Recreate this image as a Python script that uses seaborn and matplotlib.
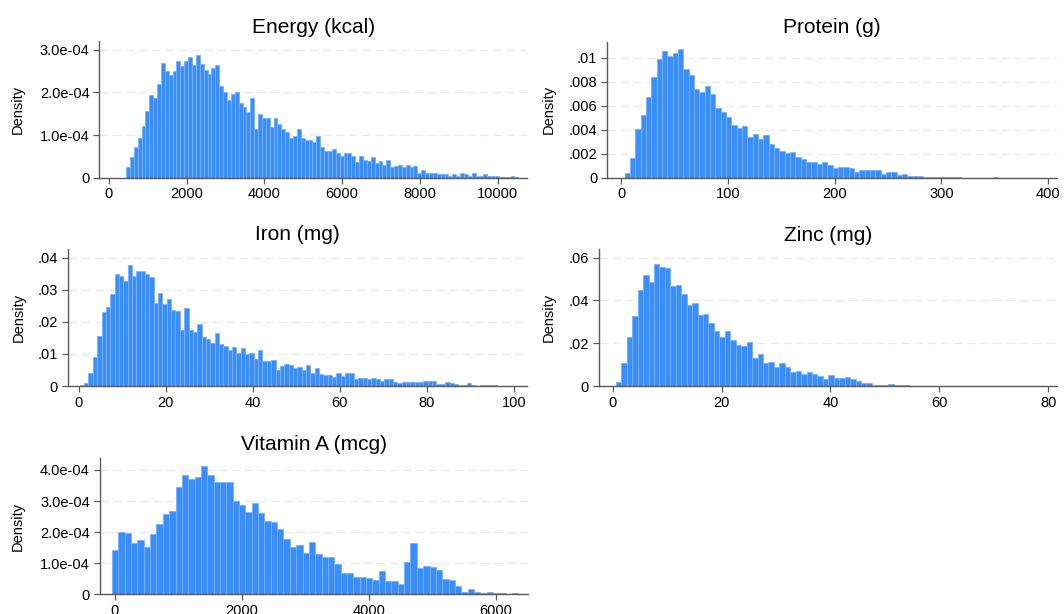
import numpy as np
import pandas as pd
import matplotlib
matplotlib.use("Agg")
import matplotlib.pyplot as plt
import seaborn as sns

# ---- histogram data (bin start, bin width, density per bin) ----
energy_start, energy_width = 437, 100
energy_density = [
    0.25, 0.48, 0.72, 0.94, 1.21, 1.57, 1.93, 1.86, 2.19, 2.70,
    2.51, 2.40, 2.51, 2.74, 2.61, 2.74, 2.84, 2.65, 2.88, 2.67,
    2.53, 2.42, 2.56, 2.65, 2.16, 2.00, 1.82, 1.97, 2.02, 1.76,
    1.66, 1.54, 1.88, 1.13, 1.49, 1.41, 1.40, 1.18, 1.39, 1.27,
    1.15, 1.06, 0.92, 0.97, 1.15, 0.94, 0.88, 0.88, 0.83, 0.97,
    0.71, 0.62, 0.62, 0.67, 0.58, 0.50, 0.57, 0.59, 0.51, 0.36,
    0.51, 0.41, 0.38, 0.48, 0.34, 0.38, 0.29, 0.41, 0.24, 0.27,
    0.29, 0.25, 0.29, 0.24, 0.27, 0.12, 0.19, 0.12, 0.12, 0.10,
    0.08, 0.08, 0.08, 0.05, 0.08, 0.05, 0.10, 0.08, 0.05, 0.10,
    0.03, 0.05, 0.08, 0.03, 0.05, 0.03, 0.02, 0.02, 0.02, 0.04,
    0.01,
]  # x 1e-4

protein_start, protein_width = 3, 5
protein_density = [
    0.39, 1.64, 4.03, 5.22, 6.75, 8.39, 9.86, 10.53, 10.14, 10.39,
    10.69, 9.03, 8.56, 7.36, 7.17, 7.61, 7.00, 5.78, 5.44, 5.03,
    4.36, 4.17, 4.31, 3.36, 3.61, 3.19, 3.53, 2.78, 2.44, 2.19,
    2.03, 2.11, 1.75, 1.58, 1.31, 1.31, 1.11, 1.31, 1.03, 0.78,
    0.86, 0.86, 0.78, 0.44, 0.64, 0.65, 0.65, 0.60, 0.30, 0.50,
    0.50, 0.20, 0.30, 0.10, 0.10, 0.10, 0.05, 0.04, 0.04, 0.03,
    0.03, 0.03, 0.03, 0.01, 0.01, 0.0, 0.0, 0.0, 0.0, 0.03,
]  # x 1e-3

iron_start, iron_width = 0.2, 1
iron_density = [
    0.3, 0.9, 4.0, 8.9, 15.5, 23.2, 24.7, 28.6, 34.8, 34.2,
    32.8, 37.6, 34.2, 36.0, 35.8, 34.9, 34.1, 25.8, 28.9, 25.5,
    27.2, 23.8, 23.4, 17.5, 24.4, 17.5, 16.8, 19.3, 15.3, 14.7,
    13.4, 16.6, 13.2, 12.4, 11.1, 12.3, 10.2, 11.7, 9.9, 10.3,
    8.3, 11.1, 7.8, 7.7, 8.0, 5.1, 6.1, 7.0, 6.4, 5.6,
    5.9, 5.0, 6.4, 4.1, 5.6, 3.6, 3.3, 3.3, 2.7, 4.2,
    3.0, 4.0, 4.1, 2.2, 2.4, 2.4, 2.1, 2.4, 2.1, 1.6,
    2.1, 2.1, 1.1, 0.8, 1.1, 1.1, 1.4, 1.4, 1.1, 1.5,
    1.5, 1.5, 0.6, 0.6, 1.1, 0.8, 0.6, 0.4, 0.2, 0.8,
    0.2, 0.0, 0.2, 0.2, 0.2, 0.2, 0.1, 0.1, 0.0, 0.0,
    0.1,
]  # x 1e-3

zinc_start, zinc_width = 0.6, 1
zinc_density = [
    1.9, 10.9, 22.7, 32.7, 44.9, 52.0, 48.6, 57.0, 55.5, 55.0,
    46.7, 47.0, 43.0, 37.9, 38.6, 33.2, 33.5, 29.6, 25.9, 23.1,
    25.9, 21.5, 19.2, 18.5, 20.6, 13.2, 14.8, 10.7, 11.2, 9.0,
    10.7, 9.0, 6.5, 6.9, 5.8, 6.4, 5.8, 4.7, 3.3, 5.0,
    3.7, 3.7, 4.0, 3.3, 2.2, 1.5, 1.5, 0.5, 0.5, 0.5,
    0.8, 0.4, 0.4, 0.3, 0.2, 0.1, 0.1, 0.1, 0.2, 0.2,
    0.2, 0.1, 0.2, 0.0, 0.0, 0.0, 0.0, 0.0, 0.0, 0.1,
]  # x 1e-3

vita_start, vita_width = -47, 100
vita_density = [
    1.42, 2.00, 1.97, 1.65, 1.75, 1.52, 1.94, 2.26, 2.58, 2.68,
    3.45, 3.83, 3.72, 3.77, 4.12, 3.84, 3.62, 3.61, 3.61, 3.00,
    2.87, 2.64, 2.93, 2.61, 2.36, 2.32, 2.10, 1.78, 1.52, 1.58,
    1.33, 1.68, 1.30, 1.20, 1.20, 0.97, 0.69, 0.69, 0.56, 0.56,
    0.52, 0.46, 0.75, 0.43, 0.43, 0.33, 1.04, 1.65, 0.85, 0.91,
    0.88, 0.78, 0.49, 0.46, 0.27, 0.075, 0.17, 0.086, 0.05, 0.086,
    0.05, 0.05, 0.0, 0.03,
]  # x 1e-4

titles = ["Energy (kcal)", "Protein (g)", "Iron (mg)", "Zinc (mg)", "Vitamin A (mcg)"]

energy_xticks = [0, 2000, 4000, 6000, 8000, 10000]
protein_xticks = [0, 100, 200, 300, 400]
iron_xticks = [0, 20, 40, 60, 80, 100]
zinc_xticks = [0, 20, 40, 60, 80]
vita_xticks = [0, 2000, 4000, 6000]

sci_yticks = [0, 1e-4, 2e-4, 3e-4, 4e-4]
sci_ylabels = ["0", "1.0e-04", "2.0e-04", "3.0e-04", "4.0e-04"]
protein_yticks = [0, 0.002, 0.004, 0.006, 0.008, 0.01]
protein_ylabels = ["0", ".002", ".004", ".006", ".008", ".01"]
iron_yticks = [0, 0.01, 0.02, 0.03, 0.04]
iron_ylabels = ["0", ".01", ".02", ".03", ".04"]
zinc_yticks = [0, 0.02, 0.04, 0.06]
zinc_ylabels = ["0", ".02", ".04", ".06"]

# ---- styling ----
sns.set_theme(style="ticks")
plt.rcParams["font.family"] = ["Liberation Sans", "DejaVu Sans"]

BAR = "#3a8efb"
EDGE = "#78b1fd"
AXIS = "#5a5a5a"
GRID = "#e9e9e9"

W, H = 1064, 614
fig = plt.figure(figsize=(W / 100, H / 100), dpi=100)
fig.patch.set_facecolor("white")

# panel boxes in pixels: left, top, right, bottom
panels = [
    dict(title=titles[0], start=energy_start, width=energy_width,
         dens=np.array(energy_density) * 1e-4, xticks=energy_xticks,
         yticks=sci_yticks[:4], ylabels=sci_ylabels[:4],
         xlim=(-247, 10759), ylim=(0, 3.2e-4),
         box=(99.4, 41.2, 527, 177.7), ylab_x=25),
    dict(title=titles[1], start=protein_start, width=protein_width,
         dens=np.array(protein_density) * 1e-3, xticks=protein_xticks,
         yticks=protein_yticks, ylabels=protein_ylabels,
         xlim=(-13.4, 408.3), ylim=(0, 0.01134),
         box=(607, 41.6, 1057, 177.7), ylab_x=556),
    dict(title=titles[2], start=iron_start, width=iron_width,
         dens=np.array(iron_density) * 1e-3, xticks=iron_xticks,
         yticks=iron_yticks, ylabels=iron_ylabels,
         xlim=(-2.6, 103.1), ylim=(0, 0.0428),
         box=(67.6, 248.8, 527.4, 386), ylab_x=26),
    dict(title=titles[3], start=zinc_start, width=zinc_width,
         dens=np.array(zinc_density) * 1e-3, xticks=zinc_xticks,
         yticks=zinc_yticks, ylabels=zinc_ylabels,
         xlim=(-2.6, 81.6), ylim=(0, 0.064),
         box=(598.5, 249, 1057, 386), ylab_x=556),
    dict(title=titles[4], start=vita_start, width=vita_width,
         dens=np.array(vita_density) * 1e-4, xticks=vita_xticks,
         yticks=sci_yticks, ylabels=sci_ylabels,
         xlim=(-244, 6504), ylim=(0, 4.37e-4),
         box=(99.5, 458.4, 528, 594.3), ylab_x=25),
]

for p in panels:
    l, t, r, b = p["box"]
    ax = fig.add_axes([l / W, 1 - b / H, (r - l) / W, (b - t) / H])
    n = len(p["dens"])
    edges = p["start"] + p["width"] * np.arange(n + 1)
    df = pd.DataFrame({"value": edges[:-1] + p["width"] / 2,
                       "density": p["dens"]})
    sns.histplot(data=df, x="value", weights="density", bins=edges.tolist(),
                 ax=ax, color=BAR, edgecolor=EDGE, linewidth=0.6, alpha=1.0)

    ax.set_xlim(*p["xlim"])
    ax.set_ylim(*p["ylim"])
    ax.set_xticks(p["xticks"])
    ax.set_yticks(p["yticks"])
    ax.set_yticklabels(p["ylabels"])
    ax.set_xlabel("")
    ax.set_ylabel("Density", fontsize=10.5, color="black")
    ax.yaxis.set_label_coords((p["ylab_x"] - l) / (r - l), 0.5)
    ax.set_title(p["title"], fontsize=15, pad=6, color="black")

    ax.set_axisbelow(True)
    ax.yaxis.grid(True, color=GRID, linestyle=(0, (7, 3.5)), linewidth=0.9)
    ax.xaxis.grid(False)

    for side in ("top", "right"):
        ax.spines[side].set_visible(False)
    for side in ("left", "bottom"):
        ax.spines[side].set_color(AXIS)
        ax.spines[side].set_linewidth(1.0)
    ax.tick_params(axis="both", direction="out", length=4, width=0.9,
                   color=AXIS, labelsize=10.5, labelcolor="black", pad=3)
    ax.set_facecolor("white")

fig.savefig("out.png", dpi=100, facecolor="white")
